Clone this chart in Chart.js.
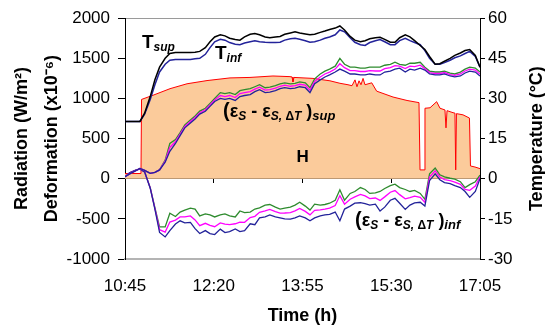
<!DOCTYPE html>
<html><head><meta charset="utf-8">
<script src="https://cdn.jsdelivr.net/npm/chart.js@4.4.1/dist/chart.umd.min.js"></script>
<style>html,body{margin:0;padding:0;background:#fff;}canvas{display:block;}</style>
</head><body>
<canvas id="c" width="545" height="331"></canvas>
<script>
// minutes since 10:45
const times = [0,5,11,16,21,27,32,37,43,48,54,59,64,70,75,80,86,91,96,102,107,112,118,123,128,134,139,144,150,155,161,166,171,177,182,187,193,198,203,209,214,219,225,230,235,241,246,252,257,262,268,273,278,284,289,294,300,305,310,316,321,326,332,337,342,348,353,359,364,369,375,380];
const timeLabels = ['10:45','12:20','13:55','15:30','17:05'];

// Temperatures (°C)
const tSup = [21.4,21.4,21.4,21.4,24.5,30.7,37.0,41.7,45.0,46.8,47.2,47.2,47.2,47.2,47.3,47.6,49.0,51.2,53.0,53.8,53.4,52.5,52.0,51.8,53.0,54.0,54.3,53.8,53.0,52.7,53.0,53.2,54.0,54.5,54.9,54.5,54.1,53.8,54.0,54.7,55.2,55.8,56.3,57.1,55.6,53.2,51.8,51.2,51.6,52.3,52.7,52.9,52.1,51.0,51.0,52.7,53.8,53.0,51.6,49.8,48.3,45.7,42.8,43.0,43.9,45.0,46.1,47.0,47.9,48.3,46.1,41.7];
const tInf = [21.4,21.4,21.4,21.4,24.1,29.6,35.1,39.9,42.8,44.3,44.6,44.6,44.6,44.6,44.8,45.0,46.5,49.0,51.2,52.1,51.8,50.9,50.3,50.1,50.7,51.2,51.6,51.2,51.0,50.9,50.9,51.0,51.8,52.3,52.5,52.1,51.6,51.0,51.2,51.8,52.5,53.0,53.8,55.6,54.9,52.7,51.0,50.1,49.8,50.9,51.6,52.0,51.2,50.1,50.1,51.6,52.5,51.6,50.9,50.1,47.9,45.0,42.8,42.8,43.4,44.3,45.2,45.9,46.8,47.6,45.7,41.7];

// Deformation, upper fibre (x10^-6)
const supBlue = [24,61,98,128,104,67,79,110,207,341,439,537,634,695,744,805,841,902,963,1000,988,1000,976,1024,1037,1049,1085,1110,1073,1079,1098,1122,1134,1122,1128,1146,1134,1073,1183,1232,1268,1293,1329,1366,1341,1305,1305,1293,1293,1305,1293,1293,1329,1341,1366,1378,1329,1366,1354,1378,1354,1305,1293,1293,1305,1280,1268,1280,1317,1341,1329,1280];
const supMagenta = [24,61,98,128,104,67,79,110,219,390,463,556,652,713,762,823,860,920,981,1037,1024,1037,1012,1061,1073,1085,1116,1140,1104,1110,1128,1152,1165,1152,1159,1177,1165,1104,1213,1268,1305,1329,1366,1433,1384,1348,1348,1336,1336,1348,1342,1342,1372,1384,1408,1402,1372,1402,1396,1414,1372,1323,1311,1311,1323,1298,1287,1305,1342,1366,1354,1305];
const supGreen = [24,61,98,128,104,67,79,110,231,439,488,574,671,732,781,842,878,939,1000,1073,1061,1073,1049,1097,1110,1122,1146,1171,1134,1140,1159,1183,1195,1183,1189,1207,1195,1134,1244,1305,1341,1366,1402,1500,1426,1390,1390,1378,1378,1390,1390,1390,1414,1426,1451,1426,1414,1439,1439,1451,1390,1341,1330,1330,1341,1317,1305,1329,1366,1390,1378,1329];

// Deformation, lower fibre (x10^-6)
const infBlue = [24,73,104,122,85,-118,-378,-670,-725,-646,-565,-524,-549,-543,-622,-683,-646,-683,-695,-628,-671,-659,-626,-659,-646,-561,-573,-488,-476,-451,-476,-488,-500,-504,-488,-463,-488,-524,-488,-463,-451,-443,-415,-524,-378,-341,-305,-299,-311,-329,-317,-402,-354,-268,-244,-305,-382,-329,-301,-293,-341,-24,61,-12,-49,-61,-85,-110,-159,-232,-159,0];
const infMagenta = [24,73,104,122,85,-114,-370,-635,-665,-540,-515,-476,-476,-463,-513,-585,-555,-580,-598,-550,-565,-571,-561,-541,-543,-483,-468,-419,-400,-382,-410,-428,-427,-422,-401,-370,-407,-450,-393,-389,-380,-367,-334,-210,-317,-255,-227,-196,-213,-248,-240,-270,-226,-168,-147,-198,-250,-235,-216,-232,-295,22,100,22,-10,-24,-42,-70,-132,-145,-92,25];
const infGreen = [24,73,104,122,85,-110,-360,-600,-600,-430,-470,-415,-390,-366,-378,-463,-439,-451,-476,-451,-439,-463,-476,-402,-421,-415,-378,-362,-329,-321,-354,-378,-366,-354,-329,-293,-341,-390,-317,-329,-321,-305,-268,-138,-268,-183,-159,-110,-134,-183,-177,-159,-122,-85,-67,-110,-134,-159,-146,-183,-256,61,134,49,24,6,-6,-37,-110,-73,-37,45];

// Solar radiation H (W/m2)
const hTimes = [0,17.1,17.7,30,48.2,66.4,87.8,112.4,133.8,158.4,176.6,178.8,179.8,180.9,201.2,219.4,230.1,238.7,243,246.2,248.3,250.5,252.6,254.8,256.9,264.1,269.4,286.9,301.9,314.7,315.8,320.1,321.1,326.5,333.6,337.2,342.5,343.6,344.7,351.1,353.2,354,354.8,361.8,368.7,369.8,374.6,380];
const hValues = [65,65,988,1040,1122,1183,1223,1256,1262,1280,1272,1268,1207,1262,1250,1220,1189,1171,1159,1232,1146,1220,1171,1250,1171,1195,1091,1018,975,948,110,110,878,884,960,878,857,634,848,823,817,110,811,796,756,159,146,126];

const FONT = "'Liberation Sans', Arial, Helvetica, sans-serif";
const pts = (xs, ys) => xs.map((t, i) => ({x: t, y: ys[i]}));

const BLUE = '#23239a', GREEN = '#2e8b2e', MAGENTA = '#ff00ff';

const textLabels = [
  {at: [18.2, 1630], runs: [['T', 19, 'bold', 0], ['sup', 12, 'bold italic', 3]]},
  {at: [96.3, 1488], runs: [['T', 19, 'bold', 0], ['inf', 12, 'bold italic', 3]]},
  {at: [104.9, 774], runs: [['(', 20, 'bold', 0], ['ε', 18, 'bold', 0], ['S', 12, 'bold italic', 3], [' - ', 18, 'bold', 0], ['ε', 18, 'bold', 0], ['S, ', 12, 'bold italic', 3], ['Δ', 12, 'bold', 3], ['T', 12, 'bold italic', 3], [' )', 18, 'bold', 0], ['sup', 13, 'bold italic', 3]]},
  {at: [183.5, 207], runs: [['H', 17, 'bold', 0]]},
  {at: [246.2, -585], runs: [['(', 20, 'bold', 0], ['ε', 18, 'bold', 0], ['S', 12, 'bold italic', 3], [' - ', 18, 'bold', 0], ['ε', 18, 'bold', 0], ['S, ', 12, 'bold italic', 3], ['Δ', 12, 'bold', 3], ['T', 12, 'bold italic', 3], [' )', 18, 'bold', 0], ['inf', 13, 'bold italic', 3]]}
];

const overlay = {
  id: 'overlay',
  afterDraw(chart) {
    const ctx = chart.ctx, xs = chart.scales.x, ys = chart.scales.y;
    ctx.save();
    ctx.fillStyle = '#000';
    ctx.textAlign = 'left';
    ctx.textBaseline = 'alphabetic';
    for (const lb of textLabels) {
      let px = xs.getPixelForValue(lb.at[0]);
      const py = ys.getPixelForValue(lb.at[1]);
      for (const [t, size, style, dy] of lb.runs) {
        ctx.font = `${style} ${size}px ${FONT}`;
        ctx.fillText(t, px, py + dy);
        px += ctx.measureText(t).width;
      }
    }
    const r = chart.scales.y1;
    ctx.font = `bold 18px ${FONT}`;
    ctx.textAlign = 'center';
    ctx.textBaseline = 'middle';
    ctx.translate(r.right - 8, (r.top + r.bottom) / 2);
    ctx.rotate(-Math.PI / 2);
    ctx.fillText('Temperature (°C)', 0, 0);
    ctx.restore();
  }
};

const line = (data, color, w, axis) => ({
  data, borderColor: color, borderWidth: w, pointRadius: 0, tension: 0, fill: false,
  xAxisID: 'x', yAxisID: axis
});

new Chart(document.getElementById('c'), {
  type: 'line',
  data: {
    datasets: [
      line(pts(times, tSup), '#000', 1.5, 'y1'),
      line(pts(times, tInf), BLUE, 1.5, 'y1'),
      line(pts(times, supBlue), BLUE, 1.3, 'y'),
      line(pts(times, supMagenta), MAGENTA, 1.3, 'y'),
      line(pts(times, supGreen), GREEN, 1.3, 'y'),
      line(pts(times, infBlue), BLUE, 1.3, 'y'),
      line(pts(times, infMagenta), MAGENTA, 1.3, 'y'),
      line(pts(times, infGreen), GREEN, 1.3, 'y'),
      {data: pts(hTimes, hValues), borderColor: '#ff0000', borderWidth: 1, backgroundColor: '#fbcb9b',
       fill: 'origin', pointRadius: 0, tension: 0, xAxisID: 'x', yAxisID: 'y', order: 100}
    ]
  },
  options: {
    responsive: false, animation: false, devicePixelRatio: 1,
    layout: {padding: {top: 13, left: 0, right: 0, bottom: 0}},
    plugins: {legend: {display: false}, tooltip: {enabled: false}},
    scales: {
      x: {
        type: 'linear', position: 'bottom', min: 0, max: 380,
        afterFit: s => { s.height = 72; },
        grid: {display: false, drawTicks: false},
        border: {display: true, color: '#b4b4b4', width: 2},
        ticks: {stepSize: 95, padding: 17, color: '#000', font: {family: FONT, size: 17},
                callback: v => timeLabels[Math.round(v / 95)], maxRotation: 0, autoSkip: false},
        title: {display: true, text: 'Time (h)', color: '#000', font: {family: FONT, size: 18, weight: 'bold'}, padding: {top: 0, bottom: 4}}
      },
      y: {
        type: 'linear', position: 'left', min: -1000, max: 2000,
        afterFit: s => { s.width = 125; },
        grid: {drawOnChartArea: true, drawTicks: true, tickLength: 7, tickColor: '#000',
               color: c => (c.tick && c.tick.value === 2000) ? '#9a9a9a' : 'rgba(0,0,0,0)'},
        border: {color: '#000', width: 1},
        ticks: {stepSize: 500, padding: 8, color: '#000', font: {family: FONT, size: 17},
                callback: v => String(v)},
        title: {display: true, text: ['Radiation (W/m²)', 'Deformation (x10⁻⁶)'], color: '#000',
                font: {family: FONT, size: 18, weight: 'bold', lineHeight: 1.667}, padding: {top: 7, bottom: 0}}
      },
      y1: {
        type: 'linear', position: 'right', min: -30, max: 60,
        afterFit: s => { s.width = 65; },
        grid: {drawOnChartArea: false, drawTicks: true, tickLength: 5, tickColor: '#000', color: '#000'},
        border: {color: '#000', width: 1},
        ticks: {stepSize: 15, padding: 3, color: '#000', font: {family: FONT, size: 17},
                callback: v => String(v)}
      },
      x2: {
        type: 'linear', axis: 'x', position: {y: 0}, min: 0, max: 380, z: 1,
        grid: {drawOnChartArea: false, drawTicks: true, tickLength: 4, color: '#000'},
        border: {color: '#000', width: 1},
        ticks: {stepSize: 95, display: false}
      }
    }
  },
  plugins: [overlay]
});
</script>
</body></html>
